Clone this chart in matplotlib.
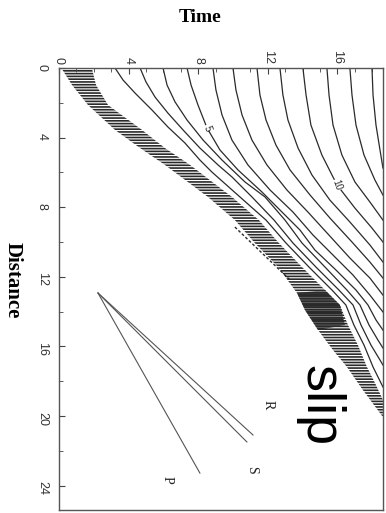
import matplotlib.pyplot as plt

# slip contours, each as (time, distance) points
c2_t = [3.22, 3.68, 4.37, 5.34, 6.26, 7.24, 8.10, 8.79, 10.40, 11.90, 13.05, 14.37, 15.69, 16.49, 16.95, 17.53, 18.05, 18.62]
c2_d = [0, 0.69, 1.44, 2.41, 3.39, 4.31, 5.29, 5.98, 7.41, 8.74, 10.06, 11.44, 12.76, 13.62, 14.77, 15.92, 17.18, 18.33]
c3_t = [4.66, 5.00, 5.52, 6.26, 7.13, 8.10, 9.14, 9.94, 11.09, 12.36, 13.45, 14.77, 16.09, 16.90, 17.36, 17.93, 18.45, 18.62]
c3_d = [0, 0.80, 1.67, 2.59, 3.56, 4.60, 5.57, 6.26, 7.41, 8.74, 10.06, 11.44, 12.76, 13.62, 14.77, 15.92, 16.78, 17.07]
c4_t = [5.98, 6.21, 6.67, 7.36, 8.28, 9.37, 10.69, 11.84, 12.99, 13.97, 15.29, 16.55, 17.30, 17.82, 18.33, 18.62]
c4_d = [0, 0.98, 1.95, 2.99, 4.14, 5.29, 6.55, 7.41, 8.74, 10.06, 11.44, 12.76, 13.62, 14.77, 15.63, 16.09]
c5_t = [7.36, 7.59, 7.99, 8.51, 9.25, 10.29, 11.67, 12.70, 13.85, 14.71, 15.92, 17.07, 17.76, 18.22, 18.62]
c5_d = [0, 0.98, 2.13, 3.45, 4.71, 5.86, 7.13, 8.16, 9.31, 10.46, 11.61, 12.76, 13.62, 14.48, 15.06]
c6_t = [8.85, 9.02, 9.37, 9.94, 10.86, 12.13, 13.45, 14.60, 15.75, 16.90, 17.87, 18.62]
c6_d = [0, 1.26, 2.70, 4.14, 5.57, 7.01, 8.28, 9.60, 10.75, 11.90, 13.05, 14.02]
c7_t = [10.00, 10.17, 10.52, 11.09, 11.95, 13.10, 14.31, 15.57, 16.72, 17.87, 18.62]
c7_d = [0, 1.26, 2.70, 4.14, 5.57, 7.01, 8.28, 9.66, 10.92, 12.07, 13.05]
c8_t = [11.38, 11.55, 11.90, 12.47, 13.28, 14.43, 15.57, 16.84, 17.87, 18.62]
c8_d = [0, 1.55, 2.99, 4.43, 5.86, 7.30, 8.62, 10.00, 11.15, 12.07]
c9_t = [12.70, 12.87, 13.16, 13.74, 14.54, 15.57, 16.72, 17.87, 18.62]
c9_d = [0, 1.55, 2.99, 4.60, 6.15, 7.59, 8.85, 10.17, 11.15]
c10_t = [14.02, 14.20, 14.48, 15.11, 15.98, 17.01, 17.99, 18.62]
c10_d = [0, 1.55, 3.28, 5.00, 6.72, 8.05, 9.20, 10.00]
c11_t = [15.40, 15.52, 15.75, 16.26, 17.01, 17.87, 18.62]
c11_d = [0, 1.55, 3.28, 5.00, 6.55, 7.70, 8.74]
c12_t = [16.72, 16.84, 17.07, 17.53, 18.16, 18.62]
c12_d = [0, 1.55, 3.28, 5.00, 6.44, 7.30]
c13_t = [17.99, 18.05, 18.22, 18.45, 18.62]
c13_d = [0, 1.55, 3.28, 4.71, 5.75]

contours = [(c2_t, c2_d), (c3_t, c3_d), (c4_t, c4_d), (c5_t, c5_d), (c6_t, c6_d),
            (c7_t, c7_d), (c8_t, c8_d), (c9_t, c9_d), (c10_t, c10_d),
            (c11_t, c11_d), (c12_t, c12_d), (c13_t, c13_d)]

# rupture front band: left edge top->bottom, then right edge bottom->top
front_t = [0.17, 0.75, 1.67, 3.22, 4.66, 6.09, 8.56, 10.11, 11.26, 12.59, 13.68, 14.14, 14.89, 15.75, 16.55, 17.47, 18.62,
           18.62, 18.22, 17.70, 17.18, 16.61, 16.15, 15.29, 13.97, 12.64, 11.49, 9.94, 7.53, 6.09, 4.77, 2.82, 2.13, 1.90]
front_d = [0.06, 0.98, 2.13, 3.56, 4.60, 5.57, 7.41, 8.74, 10.06, 11.44, 12.93, 13.91, 15.06, 16.21, 17.18, 18.51, 20.06,
           19.08, 18.22, 17.18, 15.92, 14.77, 13.62, 12.76, 11.44, 10.06, 8.74, 7.41, 5.57, 4.60, 3.56, 2.13, 0.98, 0.06]
# darker knot where the front jumps
knot_t = [13.68, 15.29, 16.15, 16.44, 14.89, 14.14]
knot_d = [12.93, 12.76, 13.62, 14.77, 15.06, 13.91]

# secondary dashed front
sec_t = [10.11, 13.28]
sec_d = [9.14, 12.18]

# wave speed lines
wave_origin = (2.24, 12.93)
wave_names = ['P', 'S', 'R']
wave_end_t = [8.10, 10.80, 11.15]
wave_end_d = [23.28, 21.49, 21.09]
wave_label_t = [6.21, 11.09, 12.01]
wave_label_d = [23.68, 23.10, 19.37]

contour_labels = [('5', 8.51, 3.45), ('10', 15.98, 6.72)]

plt.rcParams['hatch.linewidth'] = 1.2

fig = plt.figure(figsize=(3.86, 5.13), dpi=100)
ax = fig.add_axes([59 / 386, 3 / 513, (382.6 - 59) / 386, (510 - 68) / 513])

ink = '#2a2a2a'
for t, d in contours:
    ax.plot(t, d, color=ink, lw=0.9)

ax.fill(front_t, front_d, facecolor='none', edgecolor=ink, hatch='------', lw=0)
ax.fill(knot_t, knot_d, facecolor='none', edgecolor=ink, hatch='--------', lw=0)
ax.plot(sec_t, sec_d, color=ink, lw=1.0, ls=(0, (2, 1.5)))

for name, et, ed in zip(wave_names, wave_end_t, wave_end_d):
    ax.plot([wave_origin[0], et], [wave_origin[1], ed], color='#555555', lw=0.8)
for name, lt, ld in zip(wave_names, wave_label_t, wave_label_d):
    ax.text(lt, ld, name, rotation=-90, ha='center', va='center',
            family='Liberation Serif', fontsize=10, color='#222222')

for txt, lt, ld in contour_labels:
    ax.text(lt, ld, txt, rotation=-70, ha='center', va='center', fontsize=7,
            family='Liberation Sans', color=ink,
            bbox=dict(facecolor='white', edgecolor='none', pad=0.3))

ax.text(15.0, 19.37, 'slip', rotation=-90, ha='center', va='center',
        family='Liberation Sans', fontsize=39, color='black')

ax.set_xlim(0, 18.6)
ax.set_ylim(25.4, 0)
ax.xaxis.tick_top()
ax.set_xticks([0, 4, 8, 12, 16])
ax.set_xticks(range(0, 19), minor=True)
ax.set_yticks([0, 4, 8, 12, 16, 20, 24])
ax.set_yticks(range(0, 26, 2), minor=True)
ax.tick_params(axis='both', which='both', direction='in', colors='#444444', labelcolor='#333333')
ax.tick_params(axis='x', which='major', length=4, pad=3, labelsize=9, labelrotation=-90)
ax.tick_params(axis='x', which='minor', length=3)
ax.tick_params(axis='y', which='major', length=4, pad=8, labelsize=9, labelrotation=-90)
ax.tick_params(axis='y', which='minor', length=3)
for lab in ax.get_xticklabels() + ax.get_yticklabels():
    lab.set_family('Liberation Sans')
for sp in ax.spines.values():
    sp.set_color('#555555')
    sp.set_linewidth(1.0)

fig.text(200 / 386, 1 - 18 / 513, 'Time', ha='center', va='center',
         family='Liberation Serif', fontweight='bold', fontsize=14)
fig.text(13 / 386, 1 - 280 / 513, 'Distance', ha='center', va='center', rotation=-90,
         family='Liberation Serif', fontweight='bold', fontsize=15)

fig.savefig('out.png', dpi=100)
